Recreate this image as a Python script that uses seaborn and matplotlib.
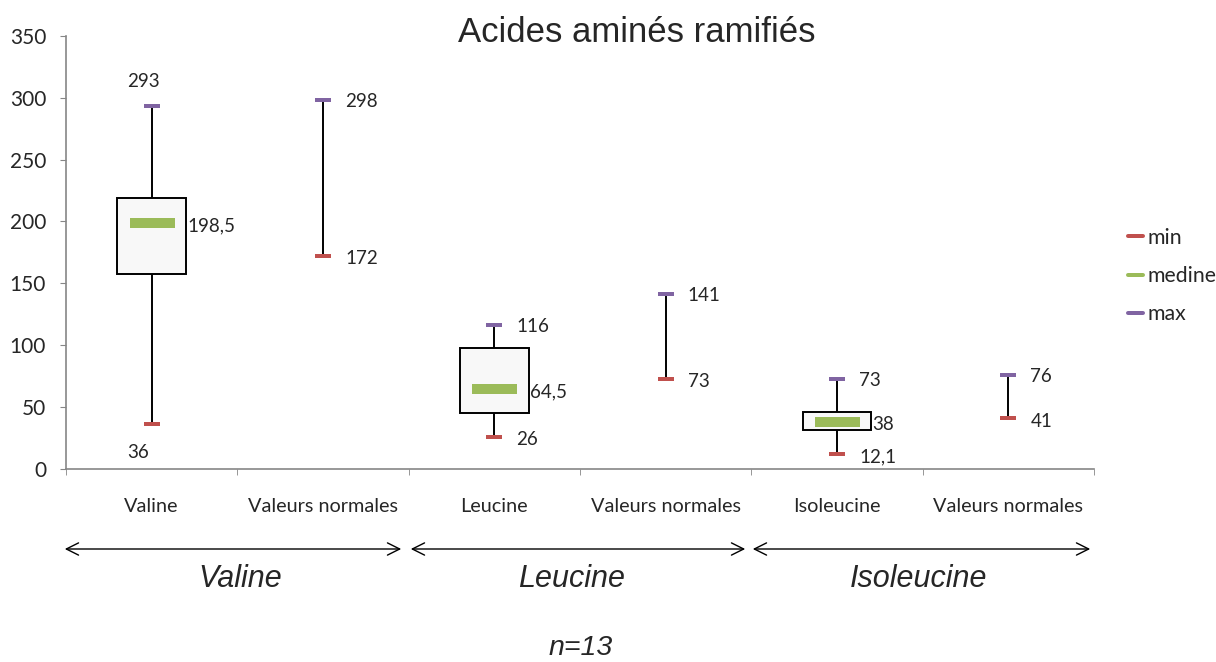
import matplotlib
matplotlib.use("Agg")
import matplotlib.pyplot as plt
from matplotlib.lines import Line2D
import seaborn as sns
import numpy as np

categories = ["Valine", "Valeurs normales", "Leucine", "Valeurs normales", "Isoleucine", "Valeurs normales"]
min_vals = [36, 172, 26, 73, 12.1, 41]
med_vals = [198.5, None, 64.5, None, 38, None]
max_vals = [293, 298, 116, 141, 73, 76]
q1_vals = [157.5, None, 45.5, None, 31.5, None]
q3_vals = [218.5, None, 97.5, None, 45.8, None]
min_labels = ["36", "172", "26", "73", "12,1", "41"]
med_labels = ["198,5", None, "64,5", None, "38", None]
max_labels = ["293", "298", "116", "141", "73", "76"]
groups = ["Valine", "Leucine", "Isoleucine"]
legend_labels = ["min", "medine", "max"]
title = "Acides aminés ramifiés"
n_text = "n=13"

sns.set_style("white")
plt.rcParams['font.family'] = ['Lato', 'DejaVu Sans']

W, H = 1216, 662
fig = plt.figure(figsize=(W / 100, H / 100), dpi=100)
ax = fig.add_axes([66 / W, 1 - 469 / H, (1094 - 66) / W, (469 - 35.7) / H])

RED = "#C0504D"
GREEN = "#9BBB59"
PURPLE = "#8064A2"
px = 0.72  # points per pixel

x = np.arange(len(categories))

# whiskers (min to max)
for i in x:
    ax.plot([i, i], [min_vals[i], max_vals[i]], color="black", lw=1.4, zorder=1)

# boxes
stats = []
pos = []
for i in x:
    if q1_vals[i] is not None:
        stats.append(dict(med=med_vals[i], q1=q1_vals[i], q3=q3_vals[i],
                          whislo=q1_vals[i], whishi=q3_vals[i], fliers=[]))
        pos.append(i)
ax.bxp(stats, positions=pos, widths=0.4, showfliers=False, showcaps=False,
       patch_artist=True,
       boxprops=dict(facecolor="#F8F8F8", edgecolor="black", linewidth=1.4),
       medianprops=dict(visible=False), whiskerprops=dict(visible=False),
       zorder=2)

# markers
ax.plot(x, min_vals, linestyle="none", marker="_", markersize=16 * px,
        mew=4 * px, color=RED, zorder=3)
ax.plot(x, max_vals, linestyle="none", marker="_", markersize=16 * px,
        mew=4 * px, color=PURPLE, zorder=3)
mx = [i for i in x if med_vals[i] is not None]
my = [med_vals[i] for i in mx]
ax.plot(mx, my, linestyle="none", marker="_", markersize=45 * px,
        mew=10 * px, color=GREEN, zorder=3)

# data labels
lab_fs = 13.5
for i in x:
    if i == 0:
        ax.annotate(max_labels[i], (i, max_vals[i]), xytext=(-6, 18), textcoords="offset points",
                    ha="center", va="center", fontsize=lab_fs)
        ax.annotate(min_labels[i], (i, min_vals[i]), xytext=(-10, -20), textcoords="offset points",
                    ha="center", va="center", fontsize=lab_fs)
    else:
        ax.annotate(max_labels[i], (i, max_vals[i]), xytext=(22 * px, -1), textcoords="offset points",
                    ha="left", va="center", fontsize=lab_fs)
        ax.annotate(min_labels[i], (i, min_vals[i]), xytext=(22 * px, -2), textcoords="offset points",
                    ha="left", va="center", fontsize=lab_fs)
    if med_vals[i] is not None:
        ax.annotate(med_labels[i], (i + 0.2, med_vals[i]), xytext=(1, -2), textcoords="offset points",
                    ha="left", va="center", fontsize=lab_fs)

ax.set_xlim(-0.5, len(categories) - 0.5)
ax.set_ylim(0, 350)
ax.set_yticks(np.arange(0, 351, 50))
ax.tick_params(axis="y", labelsize=15, length=6 * px, color="#868686", left=True, pad=10)
ax.set_xticks(x)
ax.set_xticklabels(categories, fontsize=14.3)
ax.tick_params(axis="x", which="major", length=0, pad=21)
ax.set_xticks(np.arange(-0.5, len(categories), 1), minor=True)
ax.tick_params(axis="x", which="minor", length=6 * px, color="#868686", bottom=True, direction="out")
for s in ["top", "right"]:
    ax.spines[s].set_visible(False)
for s in ["left", "bottom"]:
    ax.spines[s].set_color("#868686")
    ax.spines[s].set_linewidth(1.2)

fig.text(637 / W, 1 - 32 / H, title, ha="center", va="center", fontsize=25,
         family=["Liberation Sans", "DejaVu Sans"])

# legend
handles = [Line2D([0], [0], color=c, lw=4 * px) for c in (RED, GREEN, PURPLE)]
fig.legend(handles, legend_labels, loc="center left",
           bbox_to_anchor=(1128 / W, 1 - 276 / H), frameon=False, fontsize=15.3,
           handlelength=0.7, handletextpad=0.24, labelspacing=0.86,
           borderaxespad=0, borderpad=0)

# group arrows
segs = [(62, 404), (408, 748), (750, 1093)]
group_x = [240, 572, 919]
for (a, b), g, gx in zip(segs, groups, group_x):
    ax.annotate("", xy=(b / W, 1 - 549 / H), xytext=(a / W, 1 - 549 / H),
                xycoords="figure fraction", textcoords="figure fraction",
                arrowprops=dict(arrowstyle="<->", color="black", lw=1.0,
                                mutation_scale=22))
    fig.text(gx / W, 1 - 579 / H, g, ha="center", va="center", fontsize=22,
             style="italic", family=["Liberation Sans", "DejaVu Sans"])

fig.text(581 / W, 1 - 648 / H, n_text, ha="center", va="center", fontsize=20.5,
         style="italic", family=["Liberation Sans", "DejaVu Sans"])

fig.savefig("out.png", dpi=100)
